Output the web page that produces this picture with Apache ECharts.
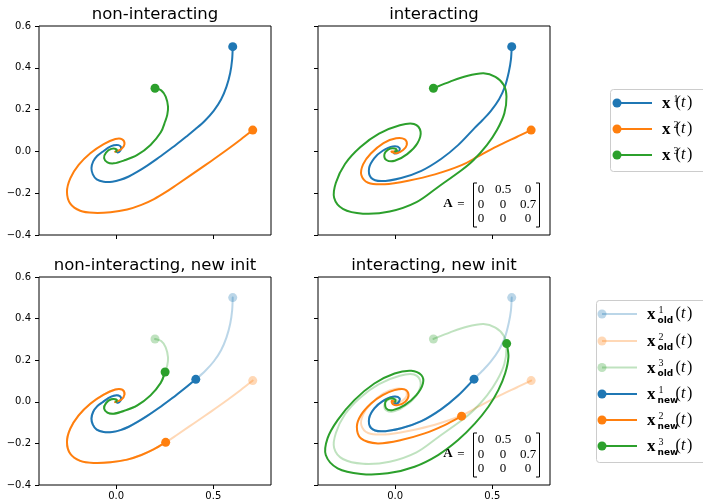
<!DOCTYPE html>
<html>
<head>
<meta charset="utf-8">
<script src="https://cdn.jsdelivr.net/npm/echarts@6/dist/echarts.min.js"></script>
<style>
  html, body { margin: 0; padding: 0; background: #fff; }
  #chart { width: 703px; height: 502px; }
</style>
</head>
<body>
<div id="chart"></div>
<script>
  // trajectories, [x, y] pairs, first point = start marker
  // non-interacting
  const blueNI = [[0.600, 0.501], [0.597, 0.44], [0.587, 0.375], [0.568, 0.31], [0.540, 0.248], [0.503, 0.195], [0.458, 0.148], [0.410, 0.108], [0.360, 0.070], [0.310, 0.033], [0.260, -0.002], [0.210, -0.036], [0.160, -0.068], [0.110, -0.097], [0.065, -0.120], [0.022, -0.136], [-0.020, -0.145], [-0.064, -0.145], [-0.100, -0.134], [-0.120, -0.110], [-0.127, -0.080], [-0.118, -0.048], [-0.098, -0.022], [-0.070, -0.002], [-0.040, 0.018], [-0.012, 0.029], [0.012, 0.030], [0.025, 0.020], [0.022, 0.005], [0.008, -0.005], [0, 0]]
  const orangeNI = [[0.703, 0.102], [0.643, 0.058], [0.574, 0.010], [0.488, -0.047], [0.401, -0.103], [0.316, -0.157], [0.255, -0.195], [0.195, -0.228], [0.130, -0.256], [0.057, -0.278], [-0.029, -0.291], [-0.116, -0.294], [-0.185, -0.284], [-0.236, -0.250], [-0.253, -0.193], [-0.236, -0.129], [-0.193, -0.065], [-0.133, -0.009], [-0.064, 0.035], [-0.004, 0.059], [0.031, 0.058], [0.043, 0.035], [0.026, 0.010], [-0.004, -0.001], [0, 0]]
  const greenNI = [[0.200, 0.302], [0.232, 0.292], [0.255, 0.262], [0.267, 0.214], [0.263, 0.175], [0.252, 0.143], [0.229, 0.090], [0.177, 0.031], [0.109, -0.017], [0.039, -0.044], [-0.012, -0.057], [-0.045, -0.052], [-0.062, -0.032], [-0.052, -0.006], [-0.025, 0.012], [0.002, 0.010], [0, 0]]
  // non-interacting, new init
  const blueNINew = [[0.410, 0.108], [0.360, 0.070], [0.310, 0.033], [0.260, -0.002], [0.210, -0.036], [0.160, -0.068], [0.110, -0.097], [0.065, -0.120], [0.022, -0.136], [-0.020, -0.145], [-0.064, -0.145], [-0.100, -0.134], [-0.120, -0.110], [-0.127, -0.080], [-0.118, -0.048], [-0.098, -0.022], [-0.070, -0.002], [-0.040, 0.018], [-0.012, 0.029], [0.012, 0.030], [0.025, 0.020], [0.022, 0.005], [0.008, -0.005], [0, 0]]
  const orangeNINew = [[0.255, -0.195], [0.195, -0.228], [0.130, -0.256], [0.057, -0.278], [-0.029, -0.291], [-0.116, -0.294], [-0.185, -0.284], [-0.236, -0.250], [-0.253, -0.193], [-0.236, -0.129], [-0.193, -0.065], [-0.133, -0.009], [-0.064, 0.035], [-0.004, 0.059], [0.031, 0.058], [0.043, 0.035], [0.026, 0.010], [-0.004, -0.001], [0, 0]]
  const greenNINew = [[0.252, 0.143], [0.229, 0.090], [0.177, 0.031], [0.109, -0.017], [0.039, -0.044], [-0.012, -0.057], [-0.045, -0.052], [-0.062, -0.032], [-0.052, -0.006], [-0.025, 0.012], [0.002, 0.010], [0, 0]]
  // interacting
  const blueI = [[0.600, 0.501], [0.596, 0.44], [0.585, 0.38], [0.565, 0.31], [0.535, 0.25], [0.492, 0.193], [0.449, 0.149], [0.406, 0.109], [0.324, 0.030], [0.238, -0.035], [0.135, -0.093], [0.031, -0.127], [-0.072, -0.142], [-0.124, -0.126], [-0.134, -0.080], [-0.107, -0.032], [-0.064, 0.003], [-0.012, 0.024], [0.023, 0.016], [0.014, -0.006], [-0.005, -0.009], [0, 0]]
  const orangeI = [[0.700, 0.102], [0.628, 0.070], [0.524, 0.024], [0.430, -0.022], [0.342, -0.066], [0.205, -0.110], [0.067, -0.140], [-0.053, -0.157], [-0.139, -0.150], [-0.174, -0.113], [-0.165, -0.062], [-0.125, -0.010], [-0.060, 0.040], [0.005, 0.063], [0.050, 0.058], [0.060, 0.031], [0.041, 0.007], [0.007, -0.009], [-0.019, -0.001], [0, 0]]
  const greenI = [[0.197, 0.302], [0.283, 0.334], [0.369, 0.361], [0.455, 0.374], [0.516, 0.357], [0.559, 0.318], [0.573, 0.262], [0.562, 0.182], [0.524, 0.102], [0.473, 0.031], [0.404, -0.041], [0.343, -0.089], [0.223, -0.169], [0.110, -0.243], [-0.028, -0.288], [-0.166, -0.298], [-0.269, -0.275], [-0.314, -0.222], [-0.305, -0.150], [-0.258, -0.060], [-0.180, 0.020], [-0.083, 0.085], [0.024, 0.125], [0.097, 0.131], [0.131, 0.094], [0.114, 0.038], [0.062, -0.013], [-0.002, -0.045], [-0.045, -0.041], [-0.055, -0.013], [-0.034, 0.010], [-0.002, 0.014], [0.010, 0.003], [0, 0]]
  // interacting, new init
  const blueINew = [[0.406, 0.109], [0.324, 0.030], [0.238, -0.035], [0.135, -0.093], [0.031, -0.127], [-0.072, -0.142], [-0.124, -0.126], [-0.134, -0.080], [-0.107, -0.032], [-0.064, 0.003], [-0.012, 0.024], [0.023, 0.016], [0.014, -0.006], [-0.005, -0.009], [0, 0]]
  const orangeINew = [[0.342, -0.069], [0.255, -0.112], [0.152, -0.152], [0.031, -0.184], [-0.089, -0.200], [-0.176, -0.176], [-0.197, -0.120], [-0.176, -0.064], [-0.124, -0.008], [-0.064, 0.032], [-0.003, 0.056], [0.049, 0.060], [0.069, 0.032], [0.052, 0.000], [0.014, -0.016], [-0.012, -0.011], [-0.017, 0.005], [0, 0]]
  const greenINew = [[0.574, 0.280], [0.583, 0.216], [0.566, 0.136], [0.531, 0.056], [0.480, -0.024], [0.411, -0.104], [0.324, -0.184], [0.221, -0.256], [0.100, -0.312], [-0.038, -0.344], [-0.176, -0.347], [-0.296, -0.320], [-0.357, -0.256], [-0.348, -0.176], [-0.296, -0.088], [-0.210, 0.008], [-0.107, 0.088], [-0.003, 0.136], [0.083, 0.149], [0.135, 0.128], [0.143, 0.088], [0.109, 0.032], [0.049, -0.016], [-0.012, -0.040], [-0.046, -0.032], [-0.050, 0.000], [-0.029, 0.016], [0.000, 0.011], [0, 0]]

  const xTicks = [0, 0.5]
  const yTicks = [-0.4, -0.2, 0.0, 0.2, 0.4, 0.6]
  const titles = ['non-interacting', 'interacting', 'non-interacting, new init', 'interacting, new init']
  const matrixRows = [['0', '0.5', '0'], ['0', '0', '0.7'], ['0', '0', '0']]

  const C = ['#1f77b4', '#ff7f0e', '#2ca02c']
  const FADE = 0.3
  const fmt = v => (v < 0 ? '\u2212' : '') + Math.abs(v).toFixed(1)

  const grids = [
    {left: 39, top: 26, width: 232, height: 209},
    {left: 318, top: 26, width: 232, height: 209},
    {left: 39, top: 277, width: 232, height: 208},
    {left: 318, top: 277, width: 232, height: 208}
  ].map(g => Object.assign({show: true, borderColor: '#000', borderWidth: 1, backgroundColor: 'transparent', containLabel: false}, g))

  const xAxes = grids.map((g, i) => ({
    type: 'value', gridIndex: i, min: -0.397, max: 0.797,
    splitLine: {show: false},
    axisLine: {show: false, onZero: false},
    axisTick: {show: true, length: 4, lineStyle: {color: '#000'}, customValues: xTicks},
    axisLabel: {show: i >= 2, customValues: xTicks, formatter: fmt, color: '#000', fontSize: 10, margin: 6, fontFamily: 'DejaVu Sans'}
  }))
  const yAxes = grids.map((g, i) => ({
    type: 'value', gridIndex: i, min: -0.4, max: 0.6, interval: 0.2,
    splitLine: {show: false},
    axisLine: {show: false, onZero: false},
    axisTick: {show: true, length: 4, lineStyle: {color: '#000'}, customValues: yTicks},
    axisLabel: {show: i % 2 === 0, customValues: yTicks, formatter: fmt, color: '#000', fontSize: 10, margin: 8, fontFamily: 'DejaVu Sans'}
  }))

  // smooth path (Catmull-Rom -> cubic Bezier) through the pixel positions given by the axes
  function smoothPath (P) {
    let d = 'M' + P[0][0] + ' ' + P[0][1]
    for (let i = 0; i < P.length - 1; i++) {
      const p0 = P[i - 1] || P[i]
      const p1 = P[i]
      const p2 = P[i + 1]
      const p3 = P[i + 2] || P[i + 1]
      const c1x = p1[0] + (p2[0] - p0[0]) / 6
      const c1y = p1[1] + (p2[1] - p0[1]) / 6
      const c2x = p2[0] - (p3[0] - p1[0]) / 6
      const c2y = p2[1] - (p3[1] - p1[1]) / 6
      d += ' C' + c1x + ' ' + c1y + ' ' + c2x + ' ' + c2y + ' ' + p2[0] + ' ' + p2[1]
    }
    return d
  }

  const series = []
  function traj (data, color, alpha, gi) {
    series.push({
      type: 'custom', coordinateSystem: 'cartesian2d', xAxisIndex: gi, yAxisIndex: gi,
      data: data, silent: true, z: 2, clip: true,
      encode: {x: 0, y: 1},
      renderItem: function (params, api) {
        if (params.dataIndex !== 0) return null
        const P = data.map(p => api.coord(p))
        return {
          type: 'path',
          shape: {pathData: smoothPath(P)},
          style: {stroke: color, lineWidth: 2, fill: 'none', opacity: alpha, lineJoin: 'round', lineCap: 'round'}
        }
      }
    })
    series.push({
      type: 'scatter', xAxisIndex: gi, yAxisIndex: gi, data: [data[0]],
      symbol: 'circle', symbolSize: 9, silent: true, z: 3,
      itemStyle: {color: color, opacity: alpha}
    })
  }
  traj(blueNI, C[0], 1, 0); traj(orangeNI, C[1], 1, 0); traj(greenNI, C[2], 1, 0)
  traj(blueI, C[0], 1, 1); traj(orangeI, C[1], 1, 1); traj(greenI, C[2], 1, 1)
  traj(blueNI, C[0], FADE, 2); traj(orangeNI, C[1], FADE, 2); traj(greenNI, C[2], FADE, 2)
  traj(blueNINew, C[0], 1, 2); traj(orangeNINew, C[1], 1, 2); traj(greenNINew, C[2], 1, 2)
  traj(blueI, C[0], FADE, 3); traj(orangeI, C[1], FADE, 3); traj(greenI, C[2], FADE, 3)
  traj(blueINew, C[0], 1, 3); traj(orangeINew, C[1], 1, 3); traj(greenINew, C[2], 1, 3)

  // titles, matrices, legends
  const graphic = []
  function txt (x, y, text, font, align) {
    graphic.push({type: 'text', x: x, y: y, z: 10, style: {text: text, font: font, fill: '#000', align: align || 'left', verticalAlign: 'middle', textAlign: align || 'left', textVerticalAlign: 'middle'}})
  }
  titles.forEach((t, i) => {
    const g = grids[i]
    txt(g.left + g.width / 2, g.top - 11, t, '16.5px "DejaVu Sans"', 'center')
  })

  function matrix (dy) {
    txt(448, 204 + dy, 'A', 'bold 13px "Liberation Serif"', 'center')
    txt(461, 205 + dy, '=', '13px "Liberation Serif"', 'center')
    const colX = [481, 503, 528]
    matrixRows.forEach((row, r) => {
      row.forEach((v, c) => txt(colX[c], 190 + r * 14.5 + dy, v, '13px "Liberation Serif"', 'center'))
    })
    graphic.push({type: 'polyline', z: 10, shape: {points: [[477, 183 + dy], [473.5, 183 + dy], [473.5, 227 + dy], [477, 227 + dy]]}, style: {stroke: '#000', lineWidth: 1, fill: null}})
    graphic.push({type: 'polyline', z: 10, shape: {points: [[536, 183 + dy], [539.5, 183 + dy], [539.5, 227 + dy], [536, 227 + dy]]}, style: {stroke: '#000', lineWidth: 1, fill: null}})
  }
  matrix(0)
  matrix(250)

  function legendBox (x, y, w, h) {
    graphic.push({type: 'rect', z: 10, shape: {x: x, y: y, width: w, height: h, r: 3}, style: {fill: 'rgba(255,255,255,0.8)', stroke: '#cccccc', lineWidth: 1}})
  }
  function legendItem (x0, x1, cy, color, alpha, tx, sup, sub) {
    graphic.push({type: 'line', z: 11, shape: {x1: x0, y1: cy, x2: x1, y2: cy}, style: {stroke: color, lineWidth: 2, opacity: alpha}})
    graphic.push({type: 'circle', z: 12, shape: {cx: x0, cy: cy, r: 4.5}, style: {fill: color, opacity: alpha}})
    txt(tx, cy + 1, 'x', 'bold 17px "Liberation Serif"')
    txt(tx + 11.5, cy - 4, sup, '10px "Liberation Serif"')
    if (sub) txt(tx + 10.5, cy + 6.5, sub, 'bold 9px "DejaVu Sans"')
    txt(675.5, cy, '(', '16px "Liberation Serif"')
    txt(681, cy, 't', 'italic 16px "Liberation Serif"')
    txt(687, cy, ')', '16px "Liberation Serif"')
  }
  legendBox(610.5, 89.5, 110, 82)
  ;[103, 129, 155].forEach((cy, i) => legendItem(617, 652, cy, C[i], 1, 662, String(i + 1)))
  legendBox(596.5, 300.5, 120, 162)
  ;[314, 341, 367.5, 394, 420, 446].forEach((cy, i) => {
    const k = i % 3
    legendItem(602, 637, cy, C[k], i < 3 ? FADE : 1, 647, String(k + 1), i < 3 ? 'old' : 'new')
  })

  const chart = echarts.init(document.getElementById('chart'))
  chart.setOption({
    animation: false,
    backgroundColor: '#fff',
    textStyle: {fontFamily: 'DejaVu Sans'},
    grid: grids,
    xAxis: xAxes,
    yAxis: yAxes,
    series: series,
    graphic: graphic
  })
</script>
</body>
</html>
